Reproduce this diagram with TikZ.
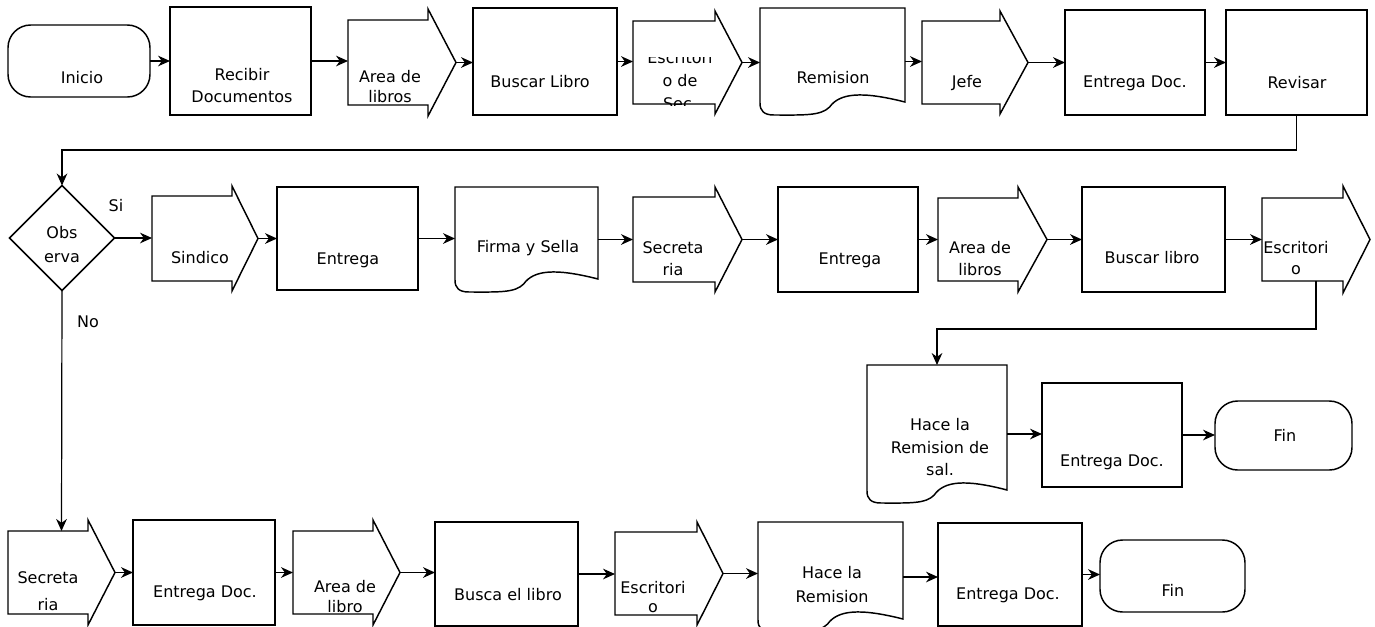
\documentclass[tikz,border=0pt]{standalone}
\usepackage{fontspec}
\setmainfont{DejaVu Sans}
\usetikzlibrary{arrows.meta,shapes.geometric}

% process box: name, x1, y1, x2, y2 (pixel grid, y downwards)
\newcommand\procbox[5]{%
  \node[outline,frame,minimum width={(#4-#2)*0.75pt},minimum height={(#5-#3)*0.75pt}]
    (#1) at ({(#2+#4)/2},{(#3+#5)/2}) {};}
% terminator: name, x1, y1, x2, y2
\newcommand\termbox[5]{%
  \node[outline,frame,rounded corners=17pt,minimum width={(#4-#2)*0.75pt},minimum height={(#5-#3)*0.75pt}]
    (#1) at ({(#2+#4)/2},{(#3+#5)/2}) {};}
% block arrow: name, left x, notch x, tip x, body top, body bottom, flange
\newcommand\blockarrow[7]{%
  \draw[outline] (#2,#5) -- (#3,#5) -- (#3,#5-#7) -- (#4,{(#5+#6)/2})
    -- (#3,#6+#7) -- (#3,#6) -- (#2,#6) -- cycle;
  \node[frame,minimum width={(#4-#2)*0.75pt},minimum height={(#6-#5)*0.75pt}]
    (#1) at ({(#2+#4)/2},{(#5+#6)/2}) {};}
% document: name, x1, top, x2, bottom
\newcommand\docbox[5]{%
  \draw[outline] (#2,#3) -- (#4,#3) -- (#4,#5-13)
    .. controls ({#4-0.3*(#4-#2)},#5-24) and ({#4-0.45*(#4-#2)},#5-22) .. ({#4-0.52*(#4-#2)},#5-8)
    .. controls ({#4-0.58*(#4-#2)},#5+1) and ({#2+0.3*(#4-#2)},#5) .. (#2+14,#5)
    .. controls (#2+4,#5) and (#2,#5-4) .. (#2,#5-12) -- cycle;
  \node[frame,minimum width={(#4-#2)*0.75pt},minimum height={(#5-#3)*0.75pt}]
    (#1) at ({(#2+#4)/2},{(#3+#5)/2}) {};}
% straight connector between two neighbours in a row
\newcommand\flowto[2]{\draw[flow] (#1.east) -- (#1.east -| #2.west);}

\begin{document}
\begin{tikzpicture}[x=0.75pt,y=-0.75pt,
  outline/.style={draw=black,line width=1.1pt,line join=miter},
  frame/.style={inner sep=0pt,outer sep=0pt},
  lbl/.style={font=\fontsize{12}{14}\selectfont,inner sep=0pt},
  flow/.style={draw=black,line width=0.9pt,-{Stealth[length=9pt,width=8pt]}}]
\clip (0,0) rectangle (1375,626);
\fill[white] (0,0) rectangle (1375,626);

% ---------- first row ----------
\termbox{inicio}{8}{25}{150}{97}
\node[lbl] (t-inicio) at (82,78) {Inicio};
\procbox{recibir}{170}{7}{311}{115}
\node[lbl] (t-recibir1) at (242,75) {Recibir};
\node[lbl] (t-recibir2) at (242,97) {Documentos};
\blockarrow{area1}{348}{428}{456}{20}{105}{11}
\node[lbl] (t-area1a) at (390,77) {Area de};
\node[lbl] (t-area1b) at (390,97) {libros};
\procbox{buscar1}{473}{8}{617}{115}
\node[lbl] (t-buscar1) at (540,82) {Buscar Libro};
\blockarrow{escr1}{633}{715}{742}{21}{104}{10}
\begin{scope}
  \clip (633,57) rectangle (715,105);
  \node[lbl,anchor=base] (t-escr1a) at (680,63) {Escritori};
  \node[lbl,anchor=base] (t-escr1b) at (680,86) {o de};
  \node[lbl,anchor=base] (t-escr1c) at (680,109) {Sec.};
\end{scope}
\docbox{remision1}{760}{8}{905}{115}
\node[lbl] (t-remision1) at (833,78) {Remision};
\blockarrow{jefe}{922}{1000}{1028}{21}{104}{10}
\node[lbl] (t-jefe) at (967,83) {Jefe};
\procbox{entrega1}{1065}{10}{1205}{115}
\node[lbl] (t-entrega1) at (1135,83) {Entrega Doc.};
\procbox{revisar}{1226}{10}{1367}{115}
\node[lbl] (t-revisar) at (1297,83) {Revisar};

% ---------- second row ----------
\node[outline,frame,diamond,minimum width={105*0.75pt},minimum height={105*0.75pt}] (obs) at (62,238) {};
\node[lbl] (t-obs1) at (62,233) {Obs};
\node[lbl] (t-obs2) at (62,258) {erva};
\node[lbl] (t-si) at (116,206) {Si};
\node[lbl] (t-no) at (88,322) {No};
\blockarrow{sindico}{152}{232}{258}{196}{281}{10}
\node[lbl] (t-sindico) at (200,258) {Sindico};
\procbox{entrega2}{277}{187}{418}{290}
\node[lbl] (t-entrega2) at (348,260) {Entrega};
\docbox{firma}{455}{187}{598}{292}
\node[lbl] (t-firma) at (528,248) {Firma y Sella};
\blockarrow{secre1}{633}{715}{742}{197}{282}{10}
\node[lbl] (t-secre1a) at (673,248) {Secreta};
\node[lbl] (t-secre1b) at (673,270) {ria};
\procbox{entrega3}{778}{187}{918}{292}
\node[lbl] (t-entrega3) at (850,260) {Entrega};
\blockarrow{area2}{938}{1018}{1047}{198}{281}{11}
\node[lbl] (t-area2a) at (980,248) {Area de};
\node[lbl] (t-area2b) at (980,270) {libros};
\procbox{buscar2}{1082}{187}{1225}{292}
\node[lbl] (t-buscar2) at (1152,258) {Buscar libro};
\blockarrow{escr2}{1262}{1343}{1370}{198}{281}{12}
\node[lbl] (t-escr2a) at (1296,248) {Escritori};
\node[lbl] (t-escr2b) at (1296,270) {o};

% ---------- third row ----------
\docbox{hace1}{867}{365}{1007}{503}
\node[lbl] (t-hace1a) at (940,425) {Hace la};
\node[lbl] (t-hace1b) at (940,448) {Remision de};
\node[lbl] (t-hace1c) at (940,470) {sal.};
\procbox{entrega4}{1042}{383}{1182}{487}
\node[lbl] (t-entrega4) at (1112,462) {Entrega Doc.};
\termbox{fin1}{1215}{401}{1352}{470}
\node[lbl] (t-fin1) at (1285,435) {Fin};

% ---------- fourth row ----------
\blockarrow{secre2}{8}{88}{115}{531}{614}{11}
\node[lbl] (t-secre2a) at (48,578) {Secreta};
\node[lbl] (t-secre2b) at (48,605) {ria};
\procbox{entrega5}{133}{520}{275}{625}
\node[lbl] (t-entrega5) at (205,593) {Entrega Doc.};
\blockarrow{area3}{293}{373}{400}{531}{614}{11}
\node[lbl] (t-area3a) at (345,587) {Area de};
\node[lbl] (t-area3b) at (345,607) {libro};
\procbox{buscael}{435}{522}{578}{626}
\node[lbl] (t-buscael) at (508,595) {Busca el libro};
\blockarrow{escr3}{615}{697}{723}{532}{615}{10}
\node[lbl] (t-escr3a) at (653,588) {Escritori};
\node[lbl] (t-escr3b) at (653,608) {o};
\docbox{hace2}{758}{522}{903}{632}
\node[lbl] (t-hace2a) at (832,573) {Hace la};
\node[lbl] (t-hace2b) at (832,597) {Remision};
\procbox{entrega6}{938}{523}{1082}{626}
\node[lbl] (t-entrega6) at (1008,595) {Entrega Doc.};
\termbox{fin2}{1100}{540}{1245}{612}
\node[lbl] (t-fin2) at (1173,590) {Fin};

% ---------- connectors ----------
\flowto{inicio}{recibir}
\flowto{recibir}{area1}
\flowto{area1}{buscar1}
\flowto{buscar1}{escr1}
\flowto{escr1}{remision1}
\flowto{remision1}{jefe}
\flowto{jefe}{entrega1}
\flowto{entrega1}{revisar}
\draw[flow] (revisar.south) -- ++(0,35) -| (obs.north);
\flowto{obs}{sindico}
\flowto{sindico}{entrega2}
\flowto{entrega2}{firma}
\flowto{firma}{secre1}
\flowto{secre1}{entrega3}
\flowto{entrega3}{area2}
\flowto{area2}{buscar2}
\flowto{buscar2}{escr2}
\draw[flow] (escr2.south) -- ++(0,48) -| (hace1.north);
\flowto{hace1}{entrega4}
\flowto{entrega4}{fin1}
\draw[flow] (obs.south) -- (secre2.north);
\flowto{secre2}{entrega5}
\flowto{entrega5}{area3}
\flowto{area3}{buscael}
\flowto{buscael}{escr3}
\flowto{escr3}{hace2}
\flowto{hace2}{entrega6}
\flowto{entrega6}{fin2}
\end{tikzpicture}
\end{document}
